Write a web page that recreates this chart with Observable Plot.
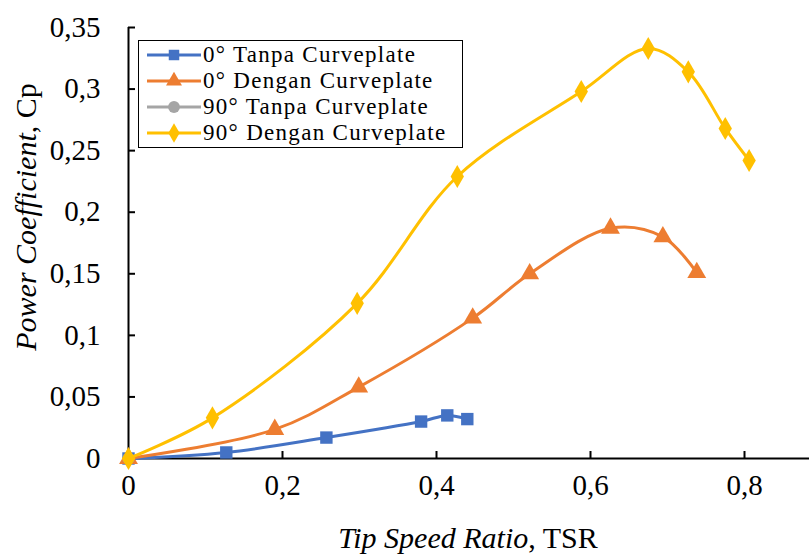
<!DOCTYPE html>
<html><head><meta charset="utf-8">
<script src="https://cdn.jsdelivr.net/npm/d3@7"></script>
<script src="https://cdn.jsdelivr.net/npm/@observablehq/plot@0.6"></script>
<style>
body{margin:0;background:#fff;}
#wrap{position:relative;width:809px;height:556px;font-family:"Liberation Serif","Times New Roman",serif;}
#legend{position:absolute;left:138px;top:40px;width:325px;height:108px;border:1.5px solid #000;background:#fff;box-sizing:border-box;padding-top:1px;}
.row{display:flex;align-items:center;height:26px;font-size:23px;line-height:26px;color:#000;white-space:nowrap;letter-spacing:1.3px;}
.row svg{margin-left:8px;margin-right:2px;}
</style></head>
<body><div id="wrap"><div id="chart"></div><div id="legend"></div></div>
<script>
const seriesNames = ["0° Tanpa Curveplate","0° Dengan Curveplate","90° Tanpa Curveplate","90° Dengan Curveplate"];
const seriesColors = ["#4472C4","#ED7D31","#A5A5A5","#FFC000"];
const seriesSymbols = ["square","triangle","circle","diamond"];

const tsr0T = [0, 0.127, 0.257, 0.380, 0.414, 0.440];
const cp0T  = [0, 0.0049, 0.017, 0.030, 0.035, 0.032];
const tsr0D = [0, 0.190, 0.299, 0.447, 0.521, 0.626, 0.694, 0.738];
const cp0D  = [0, 0.0236, 0.058, 0.114, 0.150, 0.187, 0.180, 0.151];
const tsr90T = [0];
const cp90T  = [0];
const tsr90D = [0, 0.109, 0.297, 0.427, 0.588, 0.675, 0.727, 0.775, 0.806];
const cp90D  = [0, 0.033, 0.126, 0.229, 0.298, 0.333, 0.314, 0.268, 0.242];

const xTicks = [0.2, 0.4, 0.6, 0.8];
const xLabels = [0, 0.2, 0.4, 0.6, 0.8];
const yTicks = [0, 0.05, 0.1, 0.15, 0.2, 0.25, 0.3, 0.35];

const raw = [[tsr0T,cp0T],[tsr0D,cp0D],[tsr90T,cp90T],[tsr90D,cp90D]];
const data = raw.flatMap(([xs,ys],i)=>xs.map((x,j)=>({tsr:x,cp:ys[j],s:seriesNames[i],i})));

const fmt = d => String(d).replace(".", ",");
const W = 809, H = 556;
const mL = 128, mT = 27, mB = 98, mR = 0;
const xMax = 0.2 * (W - mL - mR) / 154;
const symR = [7, 7, 6, 7];

const marks = [
  Plot.ruleY([0], {stroke:"#000", strokeWidth:2}),
  Plot.ruleX([0], {stroke:"#000", strokeWidth:2}),
  Plot.axisX(xTicks, {tickSize:7, dy:-7, tickFormat:()=>"", strokeWidth:2, stroke:"#000", label:null}),
  Plot.axisX(xLabels, {tickSize:0, tickPadding:16, tickFormat:fmt, fontSize:29, fill:"#000", label:null}),
  Plot.axisY(yTicks, {anchor:"left", tickSize:7, dx:7, tickFormat:()=>"", strokeWidth:2, stroke:"#000", label:null}),
  Plot.axisY(yTicks, {anchor:"left", tickSize:0, tickPadding:28, tickFormat:fmt, fontSize:29, fill:"#000", label:null}),
];
seriesNames.forEach((name,i)=>{
  const d = data.filter(r=>r.i===i);
  marks.push(Plot.line(d, {x:"tsr", y:"cp", stroke:seriesColors[i], strokeWidth:3, curve:"catmull-rom"}));
  marks.push(Plot.dot(d, {x:"tsr", y:"cp", fill:seriesColors[i], symbol:seriesSymbols[i], r:symR[i], stroke:"none"}));
});

const chart = Plot.plot({
  width:W, height:H,
  marginLeft:mL, marginTop:mT, marginBottom:mB, marginRight:mR,
  style:{fontFamily:'"Liberation Serif","Times New Roman",serif', background:"#fff", overflow:"visible"},
  x:{domain:[0,xMax], axis:null, label:null},
  y:{domain:[0,0.35], axis:null, label:null},
  marks
});
document.getElementById("chart").appendChild(chart);

const svg = d3.select(chart);
const xt = svg.append("text").attr("x", 468).attr("y", 548).attr("text-anchor","middle")
  .attr("font-size",30).attr("fill","#000").attr("font-family",'"Liberation Serif",serif');
xt.append("tspan").attr("font-style","italic").text("Tip Speed Ratio");
xt.append("tspan").text(", TSR");
const yt = svg.append("text").attr("transform","translate(36,217) rotate(-90)").attr("text-anchor","middle")
  .attr("font-size",30).attr("fill","#000").attr("font-family",'"Liberation Serif",serif');
yt.append("tspan").attr("font-style","italic").text("Power Coefficient");
yt.append("tspan").text(", Cp");

const leg = d3.select("#legend");
seriesNames.forEach((name,i)=>{
  const row = leg.append("div").attr("class","row");
  const s = row.append("svg").attr("width",54).attr("height",20);
  s.append("line").attr("x1",0).attr("x2",54).attr("y1",10).attr("y2",10).attr("stroke",seriesColors[i]).attr("stroke-width",3);
  const sym = d3.symbol().type({square:d3.symbolSquare,triangle:d3.symbolTriangle,circle:d3.symbolCircle,diamond:d3.symbolDiamond}[seriesSymbols[i]]).size(110);
  s.append("path").attr("d",sym()).attr("transform","translate(27,10)").attr("fill",seriesColors[i]);
  row.append("span").text(name);
});
</script></body></html>
